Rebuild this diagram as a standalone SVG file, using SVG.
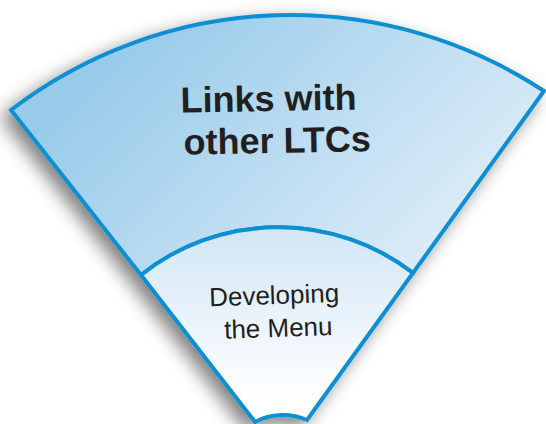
<svg xmlns="http://www.w3.org/2000/svg" width="546" height="424" viewBox="0 0 546 424">
  <defs>
    <linearGradient id="gOuter" gradientUnits="userSpaceOnUse" x1="150" y1="20" x2="420" y2="300">
      <stop offset="0" stop-color="#98cbea"/>
      <stop offset="1" stop-color="#e0eef9"/>
    </linearGradient>
    <linearGradient id="gInner" gradientUnits="userSpaceOnUse" x1="0" y1="230" x2="0" y2="400">
      <stop offset="0" stop-color="#d2e6f6"/>
      <stop offset="1" stop-color="#ffffff"/>
    </linearGradient>
    <filter id="shadow" x="-20%" y="-20%" width="140%" height="140%">
      <feGaussianBlur in="SourceAlpha" stdDeviation="9"/>
      <feOffset dx="-8" dy="7" result="b"/>
      <feComponentTransfer>
        <feFuncA type="linear" slope="0.5"/>
      </feComponentTransfer>
      <feMerge>
        <feMergeNode/>
        <feMergeNode in="SourceGraphic"/>
      </feMerge>
    </filter>
    <style>
      .band { stroke: #0b8fd2; stroke-width: 4; stroke-linejoin: miter; }
      .title { font-family: "Liberation Sans", Arial, sans-serif; font-weight: bold; font-size: 36px; fill: #231f20; text-anchor: middle; }
      .label { font-family: "Liberation Sans", Arial, sans-serif; font-size: 26px; fill: #231f20; text-anchor: middle; }
    </style>
  </defs>
  <g filter="url(#shadow)">
    <g id="outer-band">
      <path class="band" fill="url(#gOuter)" d="M 11,110 A 460 460 0 0 1 544,91 L 413,273 A 221 221 0 0 0 141,275 Z"/>
    </g>
    <g id="inner-band">
      <path class="band" fill="url(#gInner)" d="M 141,275 A 221 221 0 0 1 413,273 L 307,420 A 60 60 0 0 0 255,422 Z"/>
    </g>
  </g>
  <g id="outer-label" transform="rotate(-1 272 130)">
    <text class="title" x="269" y="111">Links with</text>
    <text class="title" x="277" y="153">other LTCs</text>
  </g>
  <g id="inner-label" transform="rotate(-2 276 320)">
    <text class="label" x="275" y="304">Developing</text>
    <text class="label" x="278" y="337">the Menu</text>
  </g>
</svg>
